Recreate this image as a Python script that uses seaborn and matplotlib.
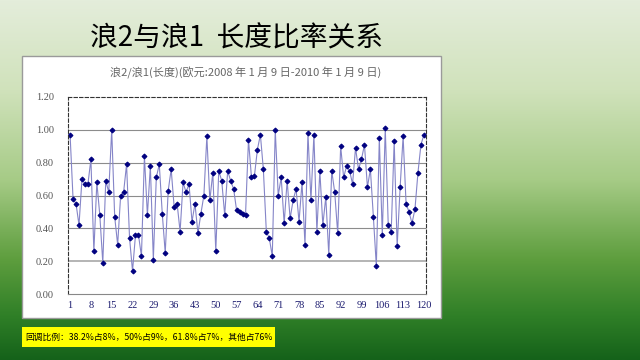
import numpy as np
import pandas as pd
import matplotlib
matplotlib.use('Agg')
import matplotlib.pyplot as plt
from matplotlib.colors import LinearSegmentedColormap
from matplotlib.patches import Rectangle
import seaborn as sns

# 浪2/浪1 长度比率, 120 waves
ratios = [0.97, 0.58, 0.55, 0.42, 0.70, 0.67, 0.67, 0.82, 0.26, 0.68,
          0.48, 0.19, 0.69, 0.62, 1.00, 0.47, 0.30, 0.60, 0.62, 0.79,
          0.34, 0.14, 0.36, 0.36, 0.23, 0.84, 0.48, 0.78, 0.21, 0.71,
          0.79, 0.49, 0.25, 0.63, 0.76, 0.53, 0.55, 0.38, 0.68, 0.62,
          0.67, 0.44, 0.55, 0.37, 0.49, 0.60, 0.96, 0.57, 0.74, 0.26,
          0.75, 0.69, 0.48, 0.75, 0.69, 0.64, 0.51, 0.50, 0.49, 0.48,
          0.94, 0.71, 0.72, 0.88, 0.97, 0.76, 0.38, 0.34, 0.23, 1.00,
          0.60, 0.71, 0.43, 0.69, 0.46, 0.57, 0.64, 0.44, 0.68, 0.30,
          0.98, 0.57, 0.97, 0.38, 0.75, 0.42, 0.59, 0.24, 0.75, 0.62,
          0.37, 0.90, 0.71, 0.78, 0.75, 0.67, 0.89, 0.76, 0.82, 0.91,
          0.65, 0.76, 0.47, 0.17, 0.95, 0.36, 1.01, 0.42, 0.38, 0.93,
          0.29, 0.65, 0.96, 0.55, 0.50, 0.43, 0.52, 0.74, 0.91, 0.97]
wave_no = list(range(1, len(ratios) + 1))
x_ticks = list(range(1, 121, 7))
y_ticks = [0.0, 0.2, 0.4, 0.6, 0.8, 1.0, 1.2]

main_title = "浪2与浪1  长度比率关系"
chart_title = "浪2/浪1(长度)(欧元:2008 年 1 月 9 日-2010 年 1 月 9 日)"
note = "回调比例：38.2%占8%，50%占9%，61.8%占7%，其他占76%"

df = pd.DataFrame({"wave": wave_no, "ratio": ratios})

sns.set_style("white")
plt.rcParams['font.family'] = ['Noto Sans CJK SC', 'DejaVu Sans']

fig = plt.figure(figsize=(6.4, 3.6), dpi=100)

# green gradient background
bg = fig.add_axes([0, 0, 1, 1], zorder=-10)
cmap = LinearSegmentedColormap.from_list(
    "bg", [(0, "#e4eddb"), (0.25, "#d0e2bb"), (0.5, "#a6cb86"),
           (0.72, "#5e9e3e"), (0.88, "#2f7f27"), (1, "#15621a")])
bg.imshow(np.linspace(0, 1, 256).reshape(-1, 1), aspect='auto', cmap=cmap,
          extent=[0, 1, 0, 1], origin='upper')
bg.set_axis_off()

# white chart box and yellow note box
fig.patches.append(Rectangle((22 / 640, 1 - 318 / 360), 419 / 640, 262 / 360,
                             transform=fig.transFigure, facecolor='white',
                             edgecolor='#9a9a9a', linewidth=1, zorder=-5))
fig.patches.append(Rectangle((22 / 640, 1 - 347 / 360), 253 / 640, 20 / 360,
                             transform=fig.transFigure, facecolor='#ffff00',
                             edgecolor='none', zorder=-5))

fig.text(236 / 640, 1 - 38 / 360, main_title, fontsize=20, color='black',
         ha='center', va='center')
fig.text(246 / 640, 1 - 73 / 360, chart_title, fontsize=8, color='#666666',
         ha='center', va='center')
fig.text(25 / 640, 1 - 337 / 360, note, fontsize=6.3, color='black',
         ha='left', va='center')

ax = fig.add_axes([68 / 640, 1 - 294 / 360, 358 / 640, 197 / 360])
ax.set_facecolor('white')
sns.lineplot(data=df, x="wave", y="ratio", ax=ax, color='#8585c8',
             linewidth=0.8, marker='D', markersize=2.5,
             markerfacecolor='#000080', markeredgecolor='#000080')

ax.set_xlim(0.3, 120.7)
ax.set_ylim(0, 1.2)
ax.set_xticks(x_ticks)
ax.set_xticks(wave_no, minor=True)
ax.set_yticks(y_ticks)
ax.set_yticklabels([f"{v:.2f}" for v in y_ticks])
ax.set_xlabel("")
ax.set_ylabel("")
for v in [0.4, 0.6, 0.8, 1.0]:
    ax.axhline(v, color='#8c8c8c', linewidth=0.8, zorder=0)
ax.axhline(0.2, color='#b4b4b4', linewidth=1.4, zorder=0)

for side in ['top', 'left', 'right']:
    ax.spines[side].set_linestyle((0, (3, 2)))
    ax.spines[side].set_color('#333333')
    ax.spines[side].set_linewidth(0.8)
ax.spines['bottom'].set_color('#888888')
ax.spines['bottom'].set_linewidth(0.8)

ax.tick_params(axis='x', which='both', direction='in', length=3,
               color='#888888', labelsize=7.5, labelcolor='#1a1a6e', pad=5)
ax.tick_params(axis='x', which='minor', length=2)
ax.tick_params(axis='y', length=0, labelsize=7.5, labelcolor='#555555', pad=10)
for lab in ax.get_xticklabels() + ax.get_yticklabels():
    lab.set_family(['Liberation Serif', 'DejaVu Serif'])

fig.savefig("out.png", dpi=100)
